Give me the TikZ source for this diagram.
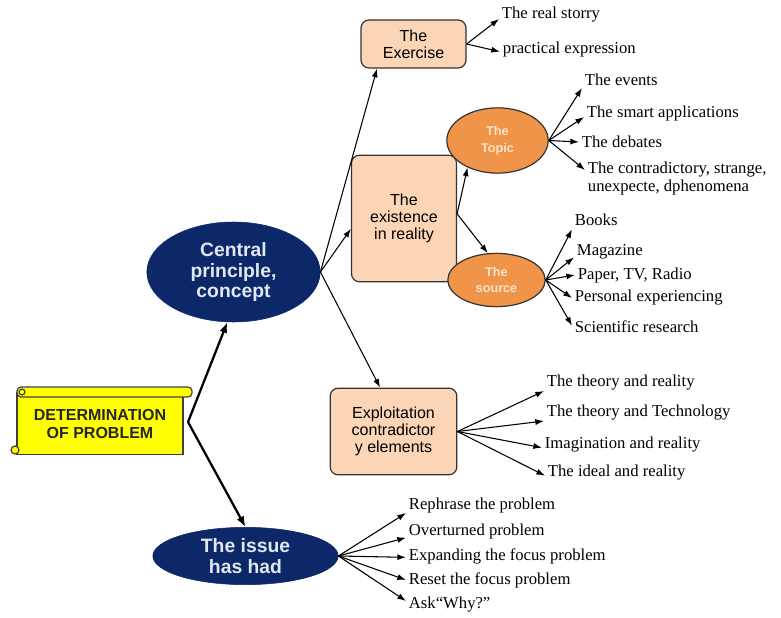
\documentclass[tikz,border=0pt]{standalone}
\usepackage{fontspec}
\setmainfont{Liberation Serif}
\setsansfont{Liberation Sans}
\usetikzlibrary{arrows.meta,shapes.geometric}
\definecolor{navy}{RGB}{12,40,104}
\definecolor{peach}{RGB}{251,213,181}
\definecolor{orng}{RGB}{240,148,74}
\definecolor{scrollyel}{RGB}{255,255,0}
\definecolor{pale}{RGB}{226,232,240}
\definecolor{paleorng}{RGB}{252,228,205}

\begin{document}
\begin{tikzpicture}[x=0.75pt,y=-0.75pt,
    leaf/.style={anchor=west,inner sep=2pt,font=\fontsize{12.5}{13.5}\selectfont},
    box/.style={draw=black!80,fill=peach,rounded corners=6pt,line width=0.9pt,align=center,
        inner sep=2pt,font=\sffamily\fontsize{12}{13}\selectfont},
    bigell/.style={ellipse,fill=navy,draw=navy,text=pale,align=center,inner sep=0pt,
        font=\sffamily\bfseries\fontsize{14.5}{15.5}\selectfont},
    smallell/.style={ellipse,fill=orng,draw=black!80,line width=0.9pt,text=paleorng,align=center,
        inner sep=0pt,font=\sffamily\bfseries\fontsize{9.5}{12.5}\selectfont},
    scrollpart/.style={draw=black!75,fill=scrollyel,line width=0.9pt},
    arr/.style={-{Latex[length=6.5pt,width=4.5pt]},line width=0.8pt},
    trunk/.style={-{Latex[length=8pt,width=6pt]},line width=1.7pt}]
    \useasboundingbox (0,0) rectangle (781,617);

    % the scroll
    \node[scrollpart,minimum width=124.5pt,minimum height=47pt,inner sep=0pt,align=center,
        text=black!85,font=\sffamily\bfseries\fontsize{12}{13.5}\selectfont] (det) at (100,423.5)
        {DETERMINATION\\OF PROBLEM};
    \draw[scrollpart,rounded corners=3pt] (17,387) rectangle (192,397);
    \draw[scrollpart] (22,392) circle (2.2pt);
    \draw[scrollpart] (15,450) circle (3pt);
    \coordinate (fork) at (188,422);

    % main ideas
    \node[bigell,minimum width=130pt,minimum height=75pt] (cen) at (233.5,272) {Central\\principle,\\concept};
    \node[bigell,minimum width=139pt,minimum height=43pt] (iss) at (245.5,556) {The issue\\has had};

    \node[box,minimum width=78.75pt,minimum height=36pt] (ex) at (413.5,44) {The\\Exercise};
    \node[box,minimum width=78.75pt,minimum height=95pt] (ex2) at (404,218.5) {The\\existence\\in reality};
    \node[box,minimum width=95pt,minimum height=65pt] (expl) at (393.5,431.5) {Exploitation\\contradictor\\y elements};

    \node[smallell,minimum width=76pt,minimum height=49pt] (top) at (497.5,140.5) {The\\Topic};
    \node[smallell,minimum width=73pt,minimum height=40pt] (src) at (496.5,280) {The\\source};

    % leaves
    \node[leaf] (rs) at (499,15) {The real storry};
    \node[leaf] (pe) at (500,49) {practical expression};
    \node[leaf] (ev) at (582,80) {The events};
    \node[leaf] (sa) at (584,113) {The smart applications};
    \node[leaf] (db) at (579,142) {The debates};
    \node[leaf,align=left] (cs) at (585,178) {The contradictory, strange,\\unexpecte, dphenomena};
    \node[leaf] (bk) at (572,220) {Books};
    \node[leaf] (mg) at (574,252) {Magazine};
    \node[leaf] (pp) at (575,275) {Paper, TV, Radio};
    \node[leaf] (pers) at (572,298) {Personal experiencing};
    \node[leaf] (sci) at (572,327) {Scientific research};
    \node[leaf] (tr) at (544,383) {The theory and reality};
    \node[leaf] (tt) at (544,413) {The theory and Technology};
    \node[leaf] (ir) at (542,445) {Imagination and reality};
    \node[leaf] (idr) at (545,473) {The ideal and reality};
    \node[leaf] (rp) at (406,505) {Rephrase the problem};
    \node[leaf] (op) at (406,531) {Overturned problem};
    \node[leaf] (efp) at (406,556) {Expanding the focus problem};
    \node[leaf] (rfp) at (406,580) {Reset the focus problem};
    \node[leaf] (ask) at (406,605) {Ask``Why?''};

    % connectors
    \draw[trunk] (fork) -- (cen.263);
    \draw[trunk] (fork) -- (iss.north);

    \draw[arr] (cen.east) -- (ex.214);
    \draw[arr] (cen.east) -- (ex2.191);
    \draw[arr] (cen.east) -- (expl.107);

    \draw[arr] (ex.east) -- ([yshift=-3pt]rs.west);
    \draw[arr] (ex.east) -- ([yshift=-2pt]pe.west);

    \draw[arr] (ex2.5) -- (top.222);
    \draw[arr] (ex2.5) -- (src.108);

    \draw[arr] (top.east) -- ([yshift=-6pt]ev.west);
    \draw[arr] (top.east) -- ([yshift=-3pt]sa.west);
    \draw[arr] (top.east) -- (db.west);
    \draw[arr] (top.east) -- ([yshift=6pt]cs.west);

    \draw[arr] (src.east) -- ([yshift=-7pt]bk.west);
    \draw[arr] (src.east) -- ([yshift=-4pt]mg.west);
    \draw[arr] (src.east) -- (pp.west);
    \draw[arr] (src.east) -- (pers.west);
    \draw[arr] (src.east) -- ([yshift=1pt]sci.west);

    \draw[arr] (expl.east) -- ([yshift=-6pt]tr.west);
    \draw[arr] (expl.east) -- ([yshift=-6pt]tt.west);
    \draw[arr] (expl.east) -- ([yshift=-2pt]ir.west);
    \draw[arr] (expl.east) -- ([yshift=-2pt]idr.west);

    \draw[arr] (iss.east) -- ([yshift=-6pt]rp.west);
    \draw[arr] (iss.east) -- ([yshift=-5pt]op.west);
    \draw[arr] (iss.east) -- ([yshift=-1pt]efp.west);
    \draw[arr] (iss.east) -- (rfp.west);
    \draw[arr] (iss.east) -- ([yshift=3pt]ask.west);
\end{tikzpicture}
\end{document}
